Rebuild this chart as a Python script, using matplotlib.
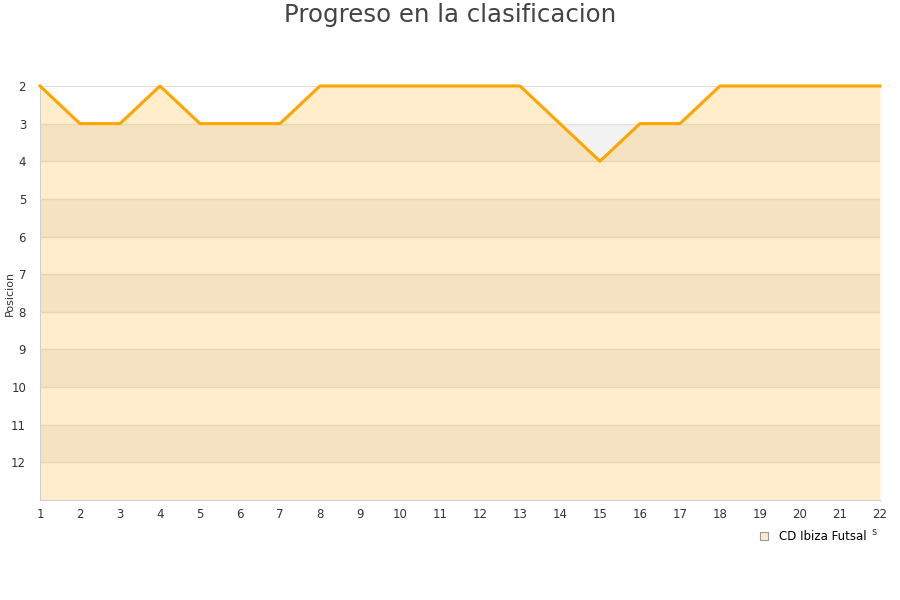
import matplotlib
matplotlib.use("Agg")
import matplotlib.pyplot as plt
from matplotlib.lines import Line2D

TEXT = "#333333"
LINE_C = "#FFA500"

# ---- data ----
jornadas = list(range(1, 23))
posicion = [2, 3, 3, 2, 3, 3, 3, 2, 2, 2, 2, 2, 2, 3, 4, 3, 3, 2, 2, 2, 2, 2]
team = "CD Ibiza Futsal"
y_ticks = list(range(2, 13))

fig = plt.figure(figsize=(9, 6), dpi=100)
ax = fig.add_axes([0.0444, 0.1667, 0.9333, 0.69])

ymin, ymax = 2, 13
# alternating background bands
for i, y0 in enumerate(range(ymin, ymax)):
    ax.axhspan(y0, y0 + 1, color="white" if i % 2 == 0 else "#F2F2F2", zorder=0, lw=0)
for y in y_ticks[1:]:
    ax.axhline(y, color="#E2E2E2", lw=1, zorder=1)
ax.axhline(2, color="#D8D8D8", lw=1.2, zorder=1)

ax.fill_between(jornadas, posicion, ymax, color=LINE_C, alpha=0.2, lw=0, zorder=2)
ax.plot(jornadas, posicion, color=LINE_C, lw=2.2, zorder=3, clip_on=False)

ax.set_xlim(1, 22)
ax.set_ylim(ymax, ymin)
ax.set_xticks(jornadas)
ax.set_yticks(y_ticks)
ax.tick_params(length=0, labelsize=8.5, colors=TEXT, pad=6)
ax.tick_params(axis="y", pad=10)
for s in ("top", "right"):
    ax.spines[s].set_visible(False)
ax.spines["left"].set_color("#D0D0D0")
ax.spines["bottom"].set_color("#D0D0D0")
ax.set_ylabel("Posicion", fontsize=8, color=TEXT)
ax.yaxis.set_label_coords(-0.03, 0.5)

fig.text(0.5, 0.975, "Progreso en la clasificacion", ha="center", va="center",
         fontsize=17.6, color="#444444")

handle = Line2D([], [], marker="s", ls="none", markersize=6,
                markerfacecolor="#FFEBC8", markeredgecolor="#999999", markeredgewidth=0.8)
fig.legend([handle], [team], loc="center", bbox_to_anchor=(0.899, 0.105),
           frameon=False, fontsize=8.5, handletextpad=0.3, labelcolor="black")
fig.text(0.971, 0.113, "s", fontsize=7, color=TEXT, ha="center", va="center")

fig.savefig("out.png", dpi=100)
